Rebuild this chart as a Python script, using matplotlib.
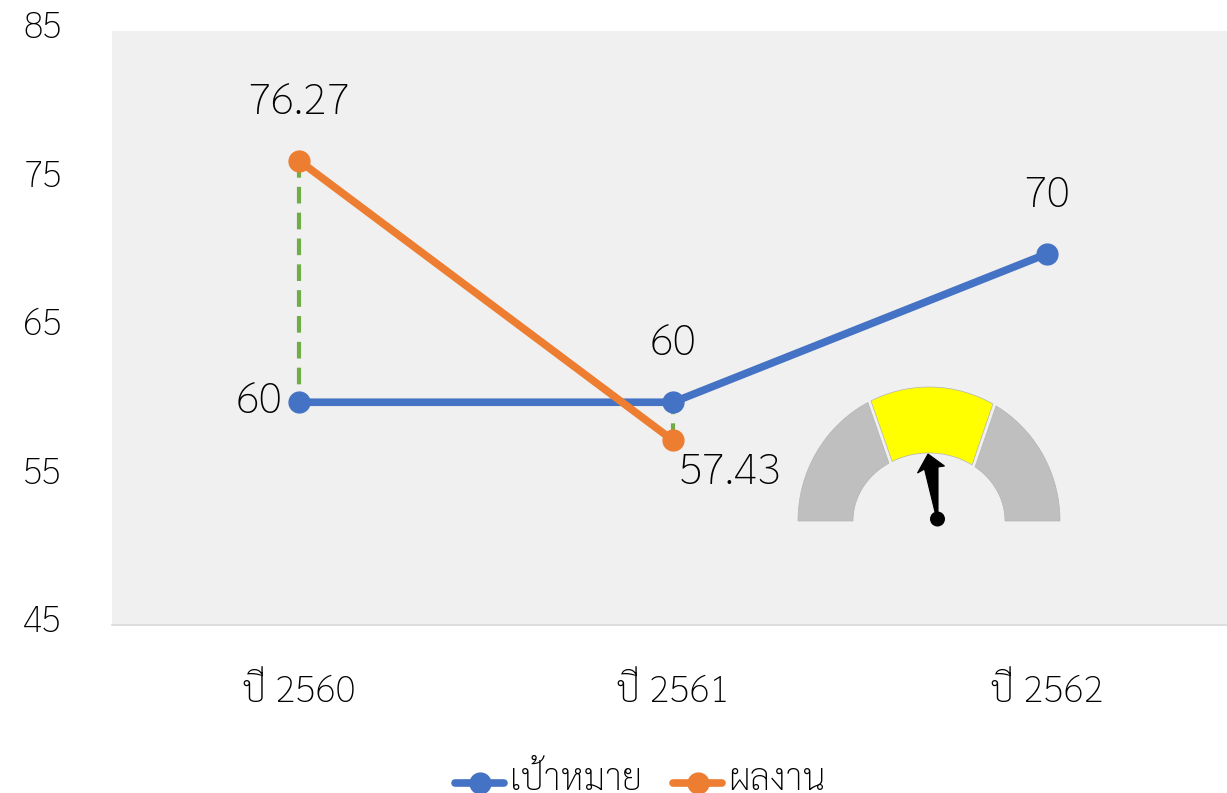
import matplotlib
matplotlib.use("Agg")
import matplotlib.pyplot as plt
import matplotlib.transforms as mtrans
from matplotlib.patches import Polygon, Circle
import numpy as np

plt.rcParams['font.family'] = ['Sarabun', 'Noto Sans Thai', 'DejaVu Sans']
plt.rcParams['font.weight'] = 'light'

categories = ['ปี 2560', 'ปี 2561', 'ปี 2562']
target = [60, 60, 70]
result = [76.27, 57.43, np.nan]
yticks = [45, 55, 65, 75, 85]

BLUE = '#4472C4'
ORANGE = '#ED7D31'
GREEN = '#70AD47'
W, H = 1227, 793

fig = plt.figure(figsize=(W/100, H/100), dpi=100)
ax = fig.add_axes([112/W, 1-625/H, (W-112)/W, (625-31)/H])
ax.set_facecolor('#F0F0F0')

x = np.arange(len(categories))

# hi-lo lines between the two series
for i in range(2):
    ax.plot([x[i], x[i]], [result[i], target[i]], color=GREEN, lw=3,
            dashes=(4, 2.2), zorder=1)

ax.plot(x, target, color=BLUE, lw=5.5, marker='o', ms=15, label='เป้าหมาย',
        solid_capstyle='round', zorder=2)
ax.plot(x, result, color=ORANGE, lw=5.5, marker='o', ms=15, label='ผลงาน',
        solid_capstyle='round', zorder=3)

ax.set_xlim(-0.5, 2.481)
ax.set_ylim(45, 85)
ax.set_xticks(x)
ax.set_xticklabels(categories, fontsize=27)
ax.set_yticks(yticks)
ax.tick_params(axis='y', length=0, labelsize=26, pad=36)
ax.tick_params(axis='x', length=0, pad=35)
for lab in ax.get_yticklabels():
    lab.set_transform(lab.get_transform() + mtrans.ScaledTranslation(0, 5/72, fig.dpi_scale_trans))

for s in ['top', 'left', 'right']:
    ax.spines[s].set_visible(False)
ax.spines['bottom'].set_color('#D9D9D9')
ax.spines['bottom'].set_linewidth(1.2)

# data labels, offsets in points
lab_style = dict(textcoords='offset points', fontsize=31.5, ha='center', va='center')
ax.annotate(str(target[0]), (x[0], target[0]), xytext=(-29, 0), **lab_style)
ax.annotate(str(target[1]), (x[1], target[1]), xytext=(0, 42), **lab_style)
ax.annotate(str(target[2]), (x[2], target[2]), xytext=(0, 42), **lab_style)
ax.annotate(str(result[0]), (x[0], result[0]), xytext=(0, 42), **lab_style)
ax.annotate(str(result[1]), (x[1], result[1]), xytext=(41, -23), **lab_style)

leg = fig.legend(loc='center', bbox_to_anchor=(640/W, 1-780/H), ncol=2, frameon=False,
                 fontsize=26.3, handlelength=1.35, handletextpad=0.15, columnspacing=0.85,
                 borderpad=0)
# the keys sit lower than the text in the original
for ln in leg.get_lines():
    ln.set_ydata(np.asarray(ln.get_ydata()) - 4)

# gauge picture, drawn on an overlay in pixel coordinates
gx = fig.add_axes([0, 0, 1, 1], zorder=5)
gx.set_xlim(0, W)
gx.set_ylim(H, 0)
gx.axis('off')

cx, cy = 929, 521
rx_out, ry_out = 131, 134
rx_in, ry_in = 76, 68


def band(t0_out, t1_out, t0_in, t1_in, color):
    # ring segment between the outer and inner arc, angles in degrees
    to = np.radians(np.linspace(t0_out, t1_out, 40))
    ti = np.radians(np.linspace(t1_in, t0_in, 40))
    xs = np.r_[cx + rx_out*np.cos(to), cx + rx_in*np.cos(ti)]
    ys = np.r_[cy - ry_out*np.sin(to), cy - ry_in*np.sin(ti)]
    gx.add_patch(Polygon(np.c_[xs, ys], closed=True, fc=color, ec='#B4B4B4', lw=0.5))


band(180, 117.8, 180, 121.8, '#BFBFBF')
band(116.3, 60.8, 119, 55.5, '#FFFF00')
band(59.2, 0, 52.7, 0, '#BFBFBF')

needle = [(928, 454), (944.5, 466), (938, 467), (938, 514), (935.5, 514), (924.5, 469), (917.5, 473)]
gx.add_patch(Polygon(needle, closed=True, fc='black', ec='black', lw=0.8))
gx.add_patch(Circle((937.5, 519), 7.5, fc='black', ec='none'))

fig.savefig('out.png', dpi=100)
